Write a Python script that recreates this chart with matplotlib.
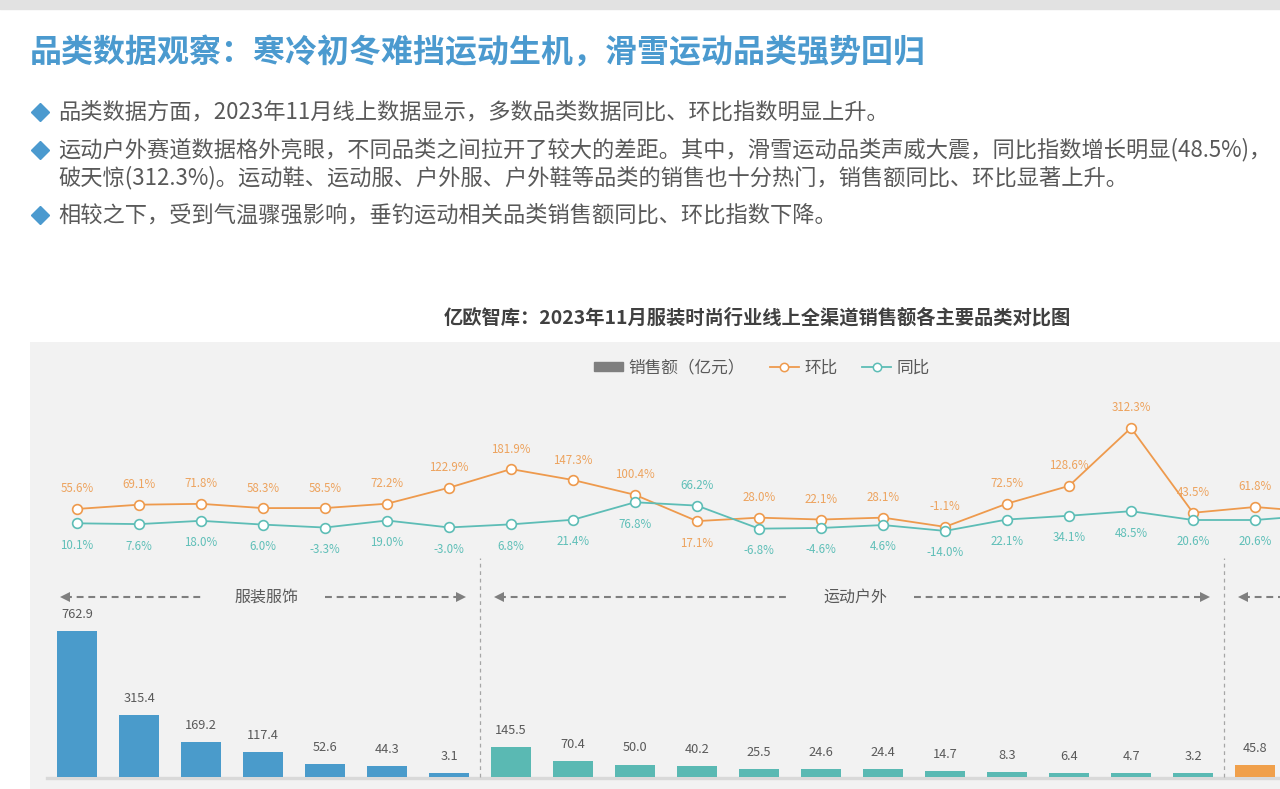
import matplotlib.pyplot as plt
from matplotlib.lines import Line2D
from matplotlib.patches import Patch, Rectangle

plt.rcParams['font.family'] = ['Noto Sans CJK SC', 'DejaVu Sans']

#   data (last line point sits past the right edge)
sales = [762.9, 315.4, 169.2, 117.4, 52.6, 44.3, 3.1,
         145.5, 70.4, 50.0, 40.2, 25.5, 24.6, 24.4, 14.7, 8.3, 6.4, 4.7, 3.2,
         45.8]
mom = [55.6, 69.1, 71.8, 58.3, 58.5, 72.2, 122.9, 181.9, 147.3, 100.4,
       17.1, 28.0, 22.1, 28.1, -1.1, 72.5, 128.6, 312.3, 43.5, 61.8, 46.0]
yoy = [10.1, 7.6, 18.0, 6.0, -3.3, 19.0, -3.0, 6.8, 21.4, 76.8,
       66.2, -6.8, -4.6, 4.6, -14.0, 22.1, 34.1, 48.5, 20.6, 20.6, 36.0]
groups = ['服装服饰', '运动户外', '']
group_bounds = [(0, 6), (7, 18), (19, 20)]
group_colors = ['#4a9bcb', '#5ab9b3', '#f0a04b']

title = '品类数据观察：寒冷初冬难挡运动生机，滑雪运动品类强势回归'
bullets = [
    '品类数据方面，2023年11月线上数据显示，多数品类数据同比、环比指数明显上升。',
    '运动户外赛道数据格外亮眼，不同品类之间拉开了较大的差距。其中，滑雪运动品类声威大震，同比指数增长明显(48.5%)，',
    '破天惊(312.3%)。运动鞋、运动服、户外服、户外鞋等品类的销售也十分热门，销售额同比、环比显著上升。',
    '相较之下，受到气温骤强影响，垂钓运动相关品类销售额同比、环比指数下降。',
]
chart_title = '亿欧智库：2023年11月服装时尚行业线上全渠道销售额各主要品类对比图'

W, H = 1280, 789
orange = '#ee9a4d'
teal = '#5dbdb6'
text_gray = '#595959'


def fx(px):
    return px / W


def fy(py):
    return 1 - py / H


fig = plt.figure(figsize=(W / 100, H / 100), dpi=100, facecolor='white')
fig.patches.append(Rectangle((0, fy(9)), 1, 9 / H, transform=fig.transFigure,
                             color='#e2e2e2', zorder=0))

#   header text
fig.text(fx(30), fy(53), title, fontsize=23, weight='bold', color='#4b9acf',
         va='center', ha='left')
bullet_y = [112, 150, 178, 215]
for k, (txt, yy) in enumerate(zip(bullets, bullet_y)):
    if k != 2:
        fig.add_artist(Line2D([fx(40)], [fy(yy)], marker='D', ms=9,
                              color='#4b9acf', transform=fig.transFigure))
    fig.text(fx(58), fy(yy), txt, fontsize=16, color=text_gray,
             va='center', ha='left')
fig.text(fx(757), fy(318), chart_title, fontsize=13.9, weight='bold',
         color='#404040', ha='center', va='center')

#   chart panel
top_px, bot_px, left_px = 342, 789, 30
ax = fig.add_axes([fx(left_px), 0, 1 - fx(left_px), (bot_px - top_px) / H])
ax.set_facecolor('#f2f2f2')
for s in ax.spines.values():
    s.set_visible(False)
ax.set_xticks([])
ax.set_yticks([])

x0_px, dx_px = 77, 62
ax.set_xlim((left_px - x0_px) / dx_px, (W - x0_px) / dx_px)

base_px, bar_scale = 774, 0.187        # px per 亿元
ax.set_ylim(-(bot_px - base_px) / bar_scale, (base_px - top_px) / bar_scale)


def bar_val(py):
    return (base_px - py) / bar_scale


ax2 = ax.twinx()
zero_px, pct_scale = 526.5, 0.3156     # px per %
ax2.set_ylim(-(bot_px - zero_px) / pct_scale, (zero_px - top_px) / pct_scale)
for s in ax2.spines.values():
    s.set_visible(False)
ax2.set_yticks([])

#   bars
bar_colors = []
for (a, b), c in zip(group_bounds, group_colors):
    bar_colors += [c] * (b - a + 1)
xs = list(range(len(sales)))
bar_floor = bar_val(776.5)
ax.axhline(bar_val(778), xmin=(47 - left_px) / (W - left_px), color='#d9d9d9',
           lw=2.4, zorder=1)
ax.bar(xs, [v - bar_floor for v in sales], bottom=bar_floor, width=0.63,
       color=bar_colors[:len(sales)], zorder=2)
for i, v in enumerate(sales):
    ax.annotate(f'{v:.1f}', (i, v), xytext=(0, 12), textcoords='offset points',
                ha='center', va='center', fontsize=9.2, color=text_gray)

#   separators and group arrows
for (a, b) in group_bounds[:-1]:
    ax.vlines(b + 0.5, bar_floor, bar_val(558), colors='#a6a6a6', lw=0.9,
              linestyles=(0, (3, 3)), zorder=1)
arrow_y = bar_val(597)
for name, (a, b) in zip(groups, group_bounds):
    left, right = a - 0.5 + 0.3, b + 0.5 - 0.3
    mid = (a + b) / 2
    dash = dict(color='#7f7f7f', lw=1.5, ls=(0, (3.3, 2.3)))
    if name:
        ax.plot([left, mid - 1.0], [arrow_y, arrow_y], **dash)
        ax.plot([mid + 1.0, right], [arrow_y, arrow_y], **dash)
        ax.text(mid + 0.05, arrow_y, name, ha='center', va='center',
                fontsize=11.5, color=text_gray)
    else:
        ax.plot([left, right], [arrow_y, arrow_y], **dash)
    ax.plot([left], [arrow_y], marker='<', ms=7.5, color='#7f7f7f', mew=0)
    ax.plot([right], [arrow_y], marker='>', ms=7.5, color='#7f7f7f', mew=0)

#   lines
xl = list(range(len(mom)))
ax2.plot(xl, mom, color=orange, lw=1.3, marker='o', ms=7, mfc='white',
         mec=orange, mew=1.2, zorder=3)
ax2.plot(xl, yoy, color=teal, lw=1.3, marker='o', ms=7, mfc='white',
         mec=teal, mew=1.2, zorder=3)
for i in range(len(sales)):
    up = 14.4
    down = -15.8
    m_off, y_off = (up, down) if mom[i] >= yoy[i] else (down, up)
    ax2.annotate(f'{mom[i]:.1f}%', (i, mom[i]), xytext=(0, m_off),
                 textcoords='offset points', ha='center', va='center',
                 fontsize=8.3, color='#eda35e')
    ax2.annotate(f'{yoy[i]:.1f}%', (i, yoy[i]), xytext=(0, y_off),
                 textcoords='offset points', ha='center', va='center',
                 fontsize=8.3, color='#5fbfb8')

#   legend
handles = [
    Patch(color='#7f7f7f'),
    Line2D([], [], color=orange, lw=1.3, marker='o', ms=6, mfc='white',
           mec=orange, mew=1.1),
    Line2D([], [], color=teal, lw=1.3, marker='o', ms=6, mfc='white',
           mec=teal, mew=1.1),
]
fig.legend(handles, ['销售额（亿元）', '环比', '同比'], loc='center',
           bbox_to_anchor=(fx(762), fy(368)), ncol=3, frameon=False,
           fontsize=12, handlelength=1.75, handleheight=0.5,
           handletextpad=0.3, columnspacing=1.5, labelcolor=text_gray)

fig.savefig('out.png', dpi=100, facecolor='white')
